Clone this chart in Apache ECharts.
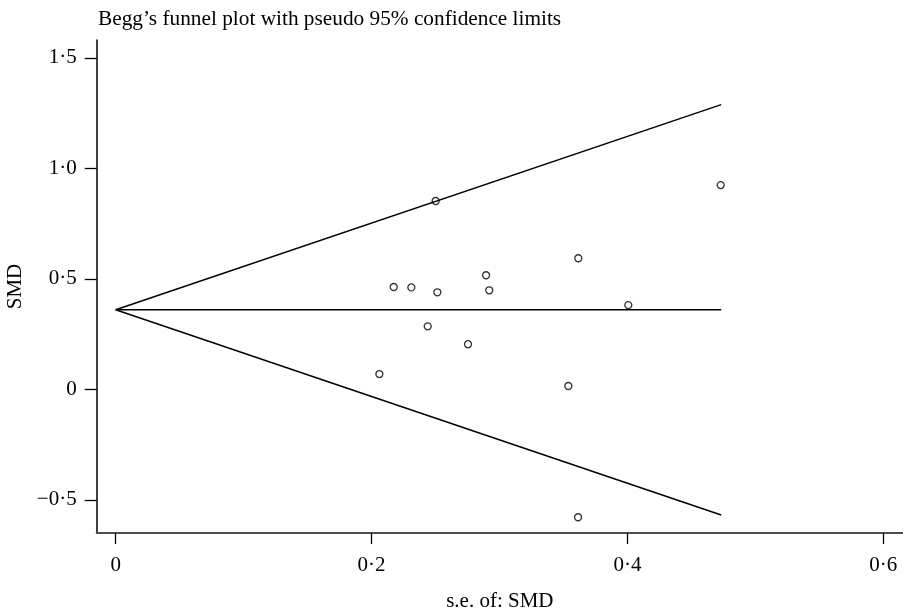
<!DOCTYPE html>
<html>
<head>
<meta charset="utf-8">
<script src="https://cdn.jsdelivr.net/npm/echarts@6/dist/echarts.min.js"></script>
<style>
    html, body { margin: 0; padding: 0; background: #fff; }
    #plot { width: 903px; height: 613px; }
</style>
</head>
<body>
<div id="plot"></div>
<script>
// study points: standard error and SMD
const seValues = [0.2501, 0.4729, 0.3616, 0.2895, 0.2173, 0.2311, 0.2514, 0.2920, 0.4007, 0.2439, 0.2754, 0.2061, 0.3538, 0.3614];
const smdValues = [0.852, 0.924, 0.593, 0.516, 0.463, 0.461, 0.439, 0.448, 0.381, 0.285, 0.204, 0.069, 0.015, -0.579];

// pseudo 95% limits (funnel) and pooled estimate
const funnelSe = [0, 0.4733];
const upperLimit = [0.36, 1.288];
const lowerLimit = [0.36, -0.569];
const pooledLine = [0.36, 0.36];

// tick labels
const xTickValues = [0, 0.2, 0.4, 0.6];
const xTickLabels = ['0', '0·2', '0·4', '0·6'];
const yTickValues = [-0.5, 0, 0.5, 1, 1.5];
const yTickLabels = ['−0·5', '0', '0·5', '1·0', '1·5'];

const font = '"Liberation Serif", "DejaVu Serif", serif';

const labelOf = (values, labels) => (v) => {
    const i = values.findIndex(t => Math.abs(t - v) < 1e-9);
    return i >= 0 ? labels[i] : '';
};

const lineSeries = (ys) => ({
    type: 'line',
    data: funnelSe.map((x, i) => [x, ys[i]]),
    symbol: 'none',
    silent: true,
    lineStyle: { color: '#000', width: 1.5 }
});

const chart = echarts.init(document.getElementById('plot'));
chart.setOption({
    animation: false,
    backgroundColor: '#fff',
    title: {
        text: 'Begg’s funnel plot with pseudo 95% confidence limits',
        left: 93,
        top: 4,
        textStyle: { fontFamily: font, fontSize: 21.3, fontWeight: 'normal', color: '#000' }
    },
    grid: { left: 96.7, right: 0, top: 40, bottom: 80, containLabel: false, outerBoundsMode: 'none' },
    xAxis: {
        type: 'value',
        min: -0.01485,
        max: 0.6154,
        name: 's.e. of: SMD',
        nameLocation: 'middle',
        nameGap: 58,
        nameTextStyle: { fontFamily: font, fontSize: 21, color: '#000' },
        splitLine: { show: false },
        axisLine: { onZero: false, lineStyle: { color: '#4d4d4d', width: 2 } },
        axisTick: { customValues: xTickValues, length: 11, lineStyle: { color: '#000', width: 1.3 } },
        axisLabel: {
            customValues: xTickValues,
            formatter: labelOf(xTickValues, xTickLabels),
            margin: 22,
            fontFamily: font, fontSize: 21, color: '#000'
        }
    },
    yAxis: {
        type: 'value',
        min: -0.6502,
        max: 1.5805,
        name: 'SMD',
        nameLocation: 'middle',
        nameGap: 68,
        nameRotate: 90,
        nameTextStyle: { fontFamily: font, fontSize: 21, color: '#000' },
        splitLine: { show: false },
        axisLine: { onZero: false, lineStyle: { color: '#000', width: 1.5 } },
        axisTick: { customValues: yTickValues, length: 12, lineStyle: { color: '#000', width: 1.3 } },
        axisLabel: {
            customValues: yTickValues,
            formatter: labelOf(yTickValues, yTickLabels),
            margin: 20,
            fontFamily: font, fontSize: 21, color: '#000'
        }
    },
    series: [
        lineSeries(upperLimit),
        lineSeries(lowerLimit),
        lineSeries(pooledLine),
        {
            type: 'scatter',
            data: seValues.map((x, i) => [x, smdValues[i]]),
            symbol: 'circle',
            symbolSize: 7,
            itemStyle: { color: 'rgba(255,255,255,0)', borderColor: '#000', borderWidth: 1.3 }
        }
    ]
});
</script>
</body>
</html>
